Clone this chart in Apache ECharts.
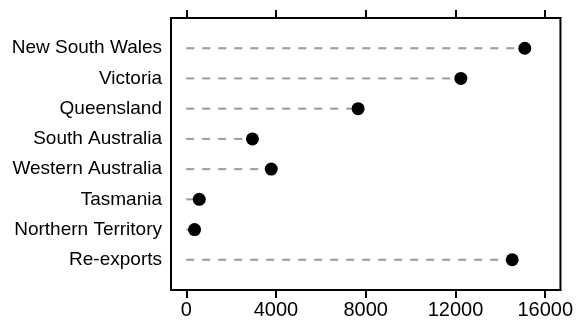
<!DOCTYPE html>
<html>
<head>
<meta charset="utf-8">
<script src="https://cdn.jsdelivr.net/npm/echarts@6/dist/echarts.min.js"></script>
<style>html,body{margin:0;padding:0;background:#fff}#c{width:576px;height:320px}</style>
</head>
<body>
<div id="c"></div>
<script>
var categories = ['New South Wales','Victoria','Queensland','South Australia','Western Australia','Tasmania','Northern Territory','Re-exports'];
var values = [15090, 12240, 7660, 2950, 3790, 580, 370, 14530];
var xTicks = [0, 4000, 8000, 12000, 16000];

var yCats = [''].concat(categories).concat(['']);
var pts = categories.map(function(c, i){ return [values[i], c]; });
var FONT = '"Liberation Sans", Arial, sans-serif';

var chart = echarts.init(document.getElementById('c'), null, {renderer:'canvas'});
var xCommon = {
  type:'value', min:-680, max:16680,
  splitLine:{show:false},
  axisLine:{show:true, onZero:false, lineStyle:{color:'#000', width:2}},
  axisTick:{show:true, length:8, lineStyle:{color:'#000', width:2}, customValues: xTicks}
};
chart.setOption({
  animation:false,
  grid:{left:171, right:13, top:18, bottom:27.5, show:true, borderColor:'#000', borderWidth:2, backgroundColor:'transparent'},
  xAxis:[
    Object.assign({}, xCommon, {position:'bottom',
      axisLabel:{show:true, customValues: xTicks, margin:10, color:'#000', fontFamily:FONT, fontSize:20,
        formatter:function(v){ return String(v); }}}),
    Object.assign({}, xCommon, {position:'top', axisLabel:{show:false}})
  ],
  yAxis:[{
    type:'category', data:yCats, inverse:true, boundaryGap:false,
    axisLine:{show:true, onZero:false, lineStyle:{color:'#000', width:2}},
    axisTick:{show:false},
    splitLine:{show:false},
    axisLabel:{interval:0, margin:9, color:'#000', fontFamily:FONT, fontSize:19}
  }],
  series:[{
    type:'custom',
    data: pts,
    renderItem:function(params, api){
      var y = api.value(1);
      var a = api.coord([0, y]);
      var b = api.coord([api.value(0), y]);
      return {type:'line', shape:{x1:a[0], y1:a[1], x2:b[0], y2:b[1]},
        style:{stroke:'#9a9a9a', lineWidth:2, lineDash:[8,8]}};
    },
    silent:true, z:1
  },{
    type:'scatter', data: pts, symbol:'circle', symbolSize:13,
    itemStyle:{color:'#000', opacity:1}, z:2, silent:true
  }]
});
</script>
</body>
</html>
